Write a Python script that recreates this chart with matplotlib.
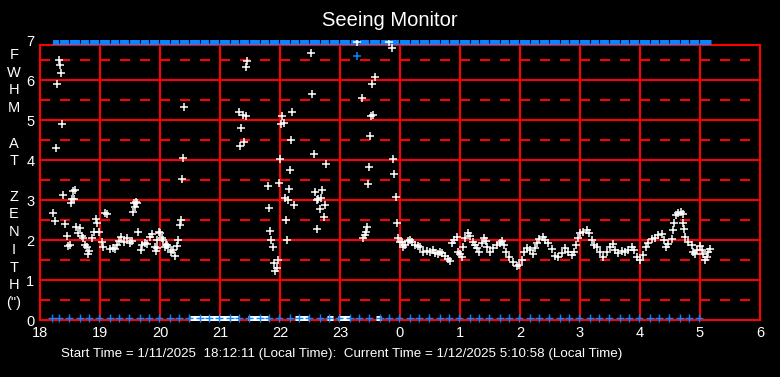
import matplotlib
matplotlib.use("Agg")
import matplotlib.pyplot as plt

plt.rcParams['font.family'] = ['Liberation Sans', 'DejaVu Sans']
plt.rcParams['lines.scale_dashes'] = False

# seeing samples: hours since midnight of 1/11 (24+ = next day), FWHM arcsec
hours = [
    18.22, 18.25, 18.27, 18.29, 18.32, 18.34, 18.355, 18.37, 18.39, 18.42,
    18.455, 18.47, 18.50, 18.52, 18.54, 18.555, 18.57, 18.59, 18.60, 18.63,
    18.67, 18.705, 18.72, 18.75, 18.78, 18.795, 18.82, 18.87, 18.90, 18.93,
    18.955, 18.99, 19.03, 19.045, 19.08, 19.11, 19.17, 19.21, 19.245, 19.29,
    19.31, 19.355, 19.40, 19.455, 19.50, 19.53, 19.555, 19.56, 19.58, 19.595,
    19.61, 19.64, 19.68, 19.695, 19.75, 19.79, 19.83, 19.86, 19.91, 19.93,
    19.945, 19.955, 19.99, 20.0, 20.03, 20.055, 20.08, 20.10, 20.12, 20.14,
    20.19, 20.22, 20.255, 20.28, 20.305, 20.33, 20.345, 20.37, 20.39, 20.405,
    21.32, 21.33, 21.355, 21.39, 21.405, 21.43, 21.44, 21.455,
    21.805, 21.82, 21.84, 21.855, 21.89, 21.905, 21.92, 21.945, 21.97, 21.99,
    22.005, 22.01, 22.04, 22.07, 22.09, 22.105, 22.12, 22.14, 22.155, 22.17,
    22.19, 22.205, 22.24, 22.52, 22.54, 22.57, 22.59, 22.61, 22.62, 22.64,
    22.67, 22.68, 22.705, 22.74, 22.755, 22.77, 23.28, 23.37, 23.39, 23.42,
    23.44, 23.455, 23.47, 23.49, 23.505, 23.52, 23.54, 23.555, 23.59, 23.82,
    23.87, 23.89, 23.905, 23.94, 23.955, 23.97,
    24.0, 24.03, 24.055, 24.08, 24.14, 24.17, 24.195, 24.25, 24.305, 24.33,
    24.39, 24.445, 24.5, 24.555, 24.58, 24.64, 24.67, 24.695, 24.75, 24.805,
    24.83, 24.86, 24.9, 24.945, 24.97, 25.0, 25.03, 25.055, 25.08, 25.14,
    25.17, 25.21, 25.25, 25.28, 25.32, 25.36, 25.4, 25.43, 25.455, 25.5,
    25.555, 25.61, 25.67, 25.695, 25.73, 25.77, 25.82, 25.88, 25.945, 25.99,
    26.03, 26.07, 26.11, 26.17, 26.21, 26.25, 26.28, 26.32, 26.38, 26.42,
    26.47, 26.53, 26.58, 26.64, 26.695, 26.75, 26.805, 26.86, 26.9, 26.93,
    26.97, 27.0, 27.055, 27.11, 27.155, 27.195, 27.23, 27.28, 27.33, 27.39,
    27.445, 27.5, 27.545, 27.58, 27.64, 27.695, 27.75, 27.805, 27.86, 27.9,
    27.945, 28.0, 28.055, 28.1, 28.14, 28.195, 28.25, 28.305, 28.36, 28.4,
    28.43, 28.47, 28.53, 28.545, 28.57, 28.6, 28.64, 28.68, 28.71, 28.72,
    28.74, 28.755, 28.805, 28.86, 28.89, 28.92, 28.955, 29.0, 29.03, 29.055,
    29.08, 29.11, 29.14, 29.17,
]
fwhm = [
    2.67, 2.48, 4.29, 5.89, 6.49, 6.37, 6.17, 4.89, 3.12, 2.40,
    2.09, 1.85, 1.87, 2.92, 3.03, 3.22, 3.03, 3.24, 2.33, 2.18,
    2.29, 2.09, 2.04, 1.88, 1.83, 1.65, 1.73, 2.04, 2.21, 2.53,
    2.42, 2.20, 1.95, 1.82, 2.67, 2.64, 1.78, 1.81, 1.78, 1.87,
    1.97, 2.07, 1.95, 2.04, 1.93, 1.98, 2.69, 2.93, 2.83, 2.96,
    2.92, 2.19, 1.75, 1.87, 1.92, 1.90, 2.08, 2.14, 1.82, 1.73,
    1.79, 2.00, 2.20, 2.17, 2.04, 2.00, 1.83, 1.87, 1.87, 1.83,
    1.71, 1.75, 1.59, 1.86, 1.99, 2.37, 2.49, 3.52, 4.04, 5.32,
    5.19, 4.34, 4.79, 5.12, 4.44, 5.09, 6.32, 6.47,
    3.35, 2.79, 2.22, 1.99, 1.82, 1.42, 1.22, 1.29, 1.49, 3.42,
    4.02, 4.89, 5.09, 4.92, 3.04, 2.49, 1.99, 2.99, 3.27, 3.74,
    4.49, 5.19, 2.87, 6.67, 5.64, 4.14, 3.19, 2.99, 2.27, 3.02,
    2.77, 3.04, 3.24, 2.57, 2.87, 3.89, 6.94, 5.54, 2.04, 2.12,
    2.21, 2.32, 3.39, 3.82, 4.59, 5.09, 5.89, 5.12, 6.07, 6.94,
    6.79, 4.02, 3.64, 3.07, 2.42, 2.04,
    1.96, 1.96, 1.83, 1.875, 1.98, 2.0, 1.96, 1.875, 1.85, 1.83,
    1.71, 1.73, 1.71, 1.75, 1.68, 1.65, 1.71, 1.67, 1.6, 1.53,
    1.48, 1.92, 2.0, 2.07, 1.71, 1.65, 1.58, 1.83, 2.04, 2.17,
    2.1, 1.96, 1.875, 1.79, 1.71, 1.92, 2.04, 1.98, 1.83, 1.71,
    1.79, 1.875, 1.92, 1.98, 1.875, 1.71, 1.58, 1.46, 1.35, 1.375,
    1.5, 1.71, 1.79, 1.75, 1.65, 1.79, 1.92, 2.02, 2.07, 2.0,
    1.92, 1.77, 1.6, 1.58, 1.68, 1.79, 1.71, 1.625, 1.71, 1.875,
    2.04, 2.17, 2.21, 2.25, 2.17, 2.0, 1.875, 1.83, 1.71, 1.58,
    1.71, 1.83, 1.9, 1.75, 1.68, 1.73, 1.71, 1.75, 1.82, 1.75,
    1.58, 1.5, 1.625, 1.83, 1.92, 2.02, 2.04, 2.125, 2.15, 2.0,
    1.83, 1.9, 2.02, 2.25, 2.43, 2.625, 2.68, 2.71, 2.64, 2.43,
    2.27, 2.07, 1.96, 1.875, 1.71, 1.65, 1.75, 1.85, 1.75, 1.65,
    1.5, 1.58, 1.71, 1.77,
]

# one blue (rejected) sample
blue_hours = [23.29]
blue_fwhm = [6.59]

# 10-minute status checks (blue ticks at bottom)
check_hours = [
    18.20, 18.31, 18.49, 18.66, 18.82, 18.99,
    19.16, 19.32, 19.49, 19.66, 19.82, 19.99,
    20.16, 20.32, 20.49, 20.66, 20.82, 20.99,
    21.16, 21.32, 21.49, 21.66, 21.82, 21.99,
    22.16, 22.32, 22.49, 22.66, 22.82, 22.99,
    23.16, 23.32, 23.49, 23.66, 23.82, 23.99,
    24.16, 24.32, 24.49, 24.66, 24.82, 24.99,
    25.16, 25.32, 25.49, 25.66, 25.82, 25.99,
    26.16, 26.32, 26.49, 26.66, 26.82, 26.99,
    27.16, 27.32, 27.49, 27.66, 27.82, 27.99,
    28.16, 28.32, 28.49, 28.66, 28.82, 28.99,
]

# periods flagged white at the bottom (start, end)
flag_start = [20.50, 21.47, 22.25, 22.78, 22.97, 23.60]
flag_end = [21.30, 21.80, 22.47, 22.89, 23.17, 23.68]

start_hour = 18.203   # 18:12:11
current_hour = 29.183  # 5:10:58

xticks = [18, 19, 20, 21, 22, 23, 24, 25, 26, 27, 28, 29, 30]
xticklabels = ['18', '19', '20', '21', '22', '23', '0', '1', '2', '3', '4', '5', '6']

red = '#ff0000'
blue = '#0a84ff'
top = 6.875

fig = plt.figure(figsize=(7.8, 3.77), dpi=100, facecolor='black')
ax = fig.add_axes([40 / 780, 1 - 320 / 377, 720 / 780, 280 / 377])
ax.set_facecolor('black')
ax.set_xlim(18, 30)
ax.set_ylim(0, 7)

lw = 1.5
for y in range(1, 7):
    ax.axhline(y, color=red, lw=lw, zorder=1)
for y in [0.5, 1.5, 2.5, 3.5, 4.5, 5.5, 6.5]:
    ax.axhline(y, color=red, lw=lw, dashes=(7.2, 7.2), dash_capstyle='butt', zorder=1)
ax.axhline(top, color=red, lw=lw, zorder=1)
ax.vlines(xticks[1:-1], 0, top, color=red, lw=lw, zorder=1)

ax.spines['top'].set_visible(False)
for s in ['left', 'right', 'bottom']:
    ax.spines[s].set_color(red)
    ax.spines[s].set_linewidth(lw)
ax.spines['left'].set_bounds(0, top)
ax.spines['right'].set_bounds(0, top)

# top status bar
ax.hlines(6.94, start_hour, current_hour, color=blue, lw=3.6, zorder=3, clip_on=False)
ax.plot(check_hours, [6.97] * len(check_hours), ls='none', marker='|', ms=2.5, mew=0.8,
        color='black', zorder=4, clip_on=False)

# bottom flags and checks
for a, b in zip(flag_start, flag_end):
    ax.hlines(0.0625, a, b, color='white', lw=3.6, zorder=3, clip_on=False)
ax.plot(check_hours, [0.06] * len(check_hours), ls='none', marker='+', ms=5.5, mew=1.0,
        color=blue, zorder=4, clip_on=False)

ax.plot(hours, fwhm, ls='none', marker='+', ms=5.2, mew=1.1, color='white', zorder=5)
ax.plot(blue_hours, blue_fwhm, ls='none', marker='+', ms=5.2, mew=1.1, color=blue, zorder=5)

ax.set_xticks(xticks)
ax.set_xticklabels(xticklabels)
ax.set_yticks(range(8))
ax.tick_params(length=0, colors='white', labelsize=10.5)
ax.tick_params(axis='x', pad=4)
ax.tick_params(axis='y', pad=4)

fig.text(0.5, 1 - 21 / 377, 'Seeing Monitor', color='white', fontsize=14.5,
         ha='center', va='center')
fig.text(14 / 780, 1 - 179 / 377, 'F\nW\nH\nM\n\nA\nT\n\nZ\nE\nN\nI\nT\nH\n(")',
         color='white', fontsize=10.5, ha='center', va='center', linespacing=1.34)
fig.text(342 / 780, 1 - 354 / 377,
         'Start Time = 1/11/2025  18:12:11 (Local Time):  Current Time = 1/12/2025 5:10:58 (Local Time)',
         color='white', fontsize=9.65, ha='center', va='center')

fig.savefig('out.png', dpi=100, facecolor='black')
